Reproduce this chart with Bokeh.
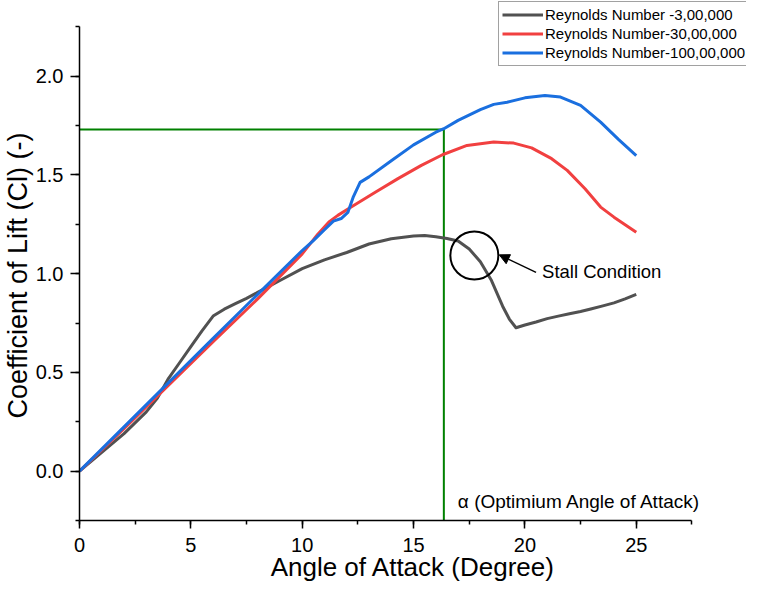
from bokeh.plotting import figure
from bokeh.models import (Range1d, SingleIntervalTicker, NumeralTickFormatter, Legend,
                          LegendItem, Label, Arrow, NormalHead, Title)
from bokeh.embed import file_html
from bokeh.resources import INLINE

# ---------------- data ----------------
aoa_re3e5 = [0, 1, 2, 3, 3.5, 4, 4.5, 5, 5.5, 6, 6.5, 7, 7.5, 8, 9, 10, 11, 12, 13, 14, 15,
             15.5, 16, 16.5, 17, 17.5, 18, 18.5, 19, 19.3, 19.6, 20, 20.5, 21, 21.5, 22,
             22.5, 23, 23.5, 24, 24.5, 25]
cl_re3e5 = [0, 0.095, 0.19, 0.30, 0.37, 0.47, 0.55, 0.63, 0.71, 0.785, 0.82, 0.848, 0.875,
            0.905, 0.965, 1.025, 1.07, 1.107, 1.15, 1.177, 1.19, 1.193, 1.187, 1.178, 1.165,
            1.125, 1.06, 0.965, 0.835, 0.77, 0.726, 0.74, 0.755, 0.772, 0.785, 0.797, 0.808,
            0.822, 0.837, 0.852, 0.872, 0.895]

aoa_re3e6 = [0, 2, 4, 6, 8, 10, 10.7, 11.2, 11.6, 12.2, 13.3, 14.3, 15.35, 16.3, 17.4,
             18.6, 19.5, 20.3, 21.2, 21.9, 22.7, 23.4, 24.0, 25]
cl_re3e6 = [0, 0.215, 0.435, 0.655, 0.872, 1.10, 1.20, 1.262, 1.295, 1.337, 1.413, 1.481,
            1.548, 1.602, 1.649, 1.666, 1.661, 1.637, 1.582, 1.523, 1.430, 1.337, 1.286, 1.210]

aoa_re1e7 = [0, 2, 4, 6, 8, 10, 10.5, 11, 11.4, 11.75, 12.05, 12.3, 12.6, 13, 14, 15, 16,
             16.36, 17, 18, 18.6, 19.2, 20, 20.9, 21.6, 22.5, 23.4, 24.2, 25]
cl_re1e7 = [0, 0.224, 0.448, 0.672, 0.895, 1.117, 1.167, 1.222, 1.266, 1.279, 1.31, 1.39,
            1.462, 1.49, 1.572, 1.652, 1.716, 1.734, 1.776, 1.83, 1.857, 1.868, 1.89, 1.902,
            1.894, 1.852, 1.767, 1.68, 1.598]

series_labels = ["Reynolds Number -3,00,000", "Reynolds Number-30,00,000",
                 "Reynolds Number-100,00,000"]
series_colors = ["#515151", "#F14040", "#1A6FDF"]

x_ticks_bounds = (0, 27.5)
y_ticks_bounds = (-0.25, 2.25)
alpha_opt = 16.36      # optimum angle of attack
cl_opt = 1.73          # lift coefficient at optimum
stall_x, stall_y = 17.73, 1.092

FONT = "Liberation Sans"

p = figure(width=746, height=586, x_range=Range1d(0, 29.95), y_range=Range1d(-0.25, 2.383),
           output_backend="svg", toolbar_location=None,
           min_border_left=77, min_border_right=0, min_border_top=0, min_border_bottom=66)
p.outline_line_color = None
p.xgrid.visible = False
p.ygrid.visible = False
p.background_fill_color = "white"
p.border_fill_color = "white"

# axes
for ax in (p.xaxis[0], p.yaxis[0]):
    ax.axis_line_width = 1.5
    ax.axis_line_color = "black"
    ax.major_tick_line_width = 1.5
    ax.minor_tick_line_width = 1.5
    ax.major_tick_line_color = "black"
    ax.minor_tick_line_color = "black"
    ax.major_tick_in = 0
    ax.minor_tick_in = 0
    ax.minor_tick_out = 4
    ax.major_label_text_font = FONT
    ax.major_label_text_font_size = "20px"
    ax.major_label_text_color = "black"

p.xaxis.bounds = x_ticks_bounds
p.yaxis.bounds = y_ticks_bounds
p.xaxis.major_tick_out = 8
p.yaxis.major_tick_out = 9
p.xaxis.ticker = SingleIntervalTicker(interval=5, num_minor_ticks=2)
p.yaxis.ticker = SingleIntervalTicker(interval=0.5, num_minor_ticks=2)
p.yaxis.formatter = NumeralTickFormatter(format="0.0")
p.xaxis.major_label_standoff = 9
p.yaxis.major_label_standoff = 7

p.xaxis.axis_label = "Angle of Attack (Degree)"
p.xaxis.axis_label_text_font = FONT
p.xaxis.axis_label_text_font_size = "26px"
p.xaxis.axis_label_text_font_style = "normal"
p.xaxis.axis_label_text_color = "black"
p.xaxis.axis_label_standoff = -3

# y axis title (start of text placed as in the reference)
ytitle = Title(text="Coefficient of Lift (Cl) (-)", align="left", offset=102,
               text_font=FONT, text_font_size="27px", text_font_style="normal",
               text_color="black", standoff=0)
p.add_layout(ytitle, "left")

# green guide lines
p.line([0, alpha_opt], [cl_opt, cl_opt], line_color="#008000", line_width=2)
p.line([alpha_opt, alpha_opt], [y_ticks_bounds[0], cl_opt], line_color="#008000", line_width=2)

# curves
r1 = p.line(aoa_re3e5, cl_re3e5, line_color=series_colors[0], line_width=3, line_join="round")
r2 = p.line(aoa_re3e6, cl_re3e6, line_color=series_colors[1], line_width=3, line_join="round")
r3 = p.line(aoa_re1e7, cl_re1e7, line_color=series_colors[2], line_width=3, line_join="round")

# stall marker
p.scatter([stall_x], [stall_y], marker="circle", size=48, fill_color=None,
          line_color="black", line_width=2)
p.add_layout(Arrow(end=NormalHead(size=10, fill_color="black", line_color="black"),
                   x_start=20.5, y_start=1.006, x_end=18.85, y_end=1.095,
                   line_width=1.5, line_color="black"))
p.add_layout(Label(x=20.77, y=1.011, text="Stall Condition", text_font=FONT,
                   text_font_size="18.5px", text_color="black",
                   text_baseline="middle", text_align="left"))
p.add_layout(Label(x=16.99, y=-0.155, text="\u03b1 (Optimium Angle of Attack)", text_font=FONT,
                   text_font_size="19px", text_color="black",
                   text_baseline="middle", text_align="left"))

legend = Legend(items=[LegendItem(label=series_labels[0], renderers=[r1]),
                       LegendItem(label=series_labels[1], renderers=[r2]),
                       LegendItem(label=series_labels[2], renderers=[r3])],
                location=(419, 454))
legend.label_text_font = FONT
legend.label_text_font_size = "15px"
legend.label_text_color = "black"
legend.glyph_width = 41
legend.glyph_height = 19
legend.label_height = 19
legend.label_standoff = 2
legend.spacing = 0
legend.padding = 3
legend.margin = 0
legend.border_line_color = "#444444"
legend.border_line_width = 1
legend.background_fill_alpha = 1
p.add_layout(legend)

open("out.html", "w").write(file_html(p, INLINE))
